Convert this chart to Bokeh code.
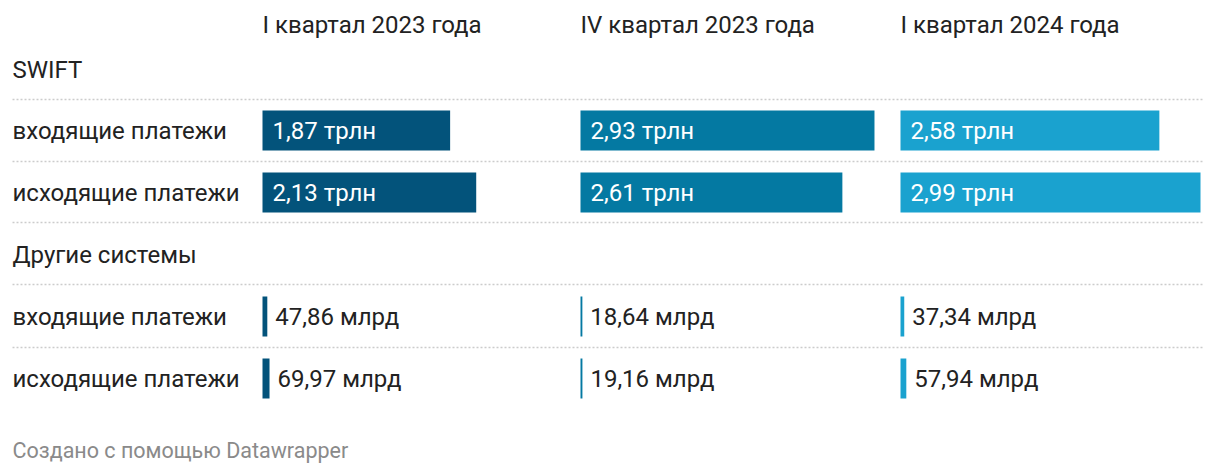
from bokeh.plotting import figure
from bokeh.models import Range1d, ColumnDataSource
from bokeh.core.properties import value
from bokeh.embed import file_html
from bokeh.resources import INLINE

# ---- data ----
periods = ["I квартал 2023 года", "IV квартал 2023 года", "I квартал 2024 года"]
groups = ["SWIFT", "Другие системы"]
row_labels = ["входящие платежи", "исходящие платежи"]
# values in trillions
swift_in = [1.87, 2.93, 2.58]
swift_out = [2.13, 2.61, 2.99]
other_in = [0.04786, 0.01864, 0.03734]
other_out = [0.06997, 0.01916, 0.05794]
swift_in_lbl = ["1,87 трлн", "2,93 трлн", "2,58 трлн"]
swift_out_lbl = ["2,13 трлн", "2,61 трлн", "2,99 трлн"]
other_in_lbl = ["47,86 млрд", "18,64 млрд", "37,34 млрд"]
other_out_lbl = ["69,97 млрд", "19,16 млрд", "57,94 млрд"]
colors = ["#03537b", "#0479a2", "#1aa2cf"]
credit = "Создано с помощью Datawrapper"

# ---- layout (pixels) ----
W, H = 1204, 466
PX_PER_UNIT = 300 / max(swift_out + swift_in)  # widest bar = 300px
col_px = [262, 580, 900]
U = lambda px: px / PX_PER_UNIT  # pixel -> data units

FONT = value("Roboto")
TXT = "#222222"
FS = "24px"

p = figure(width=W, height=H, output_backend="svg", toolbar_location=None,
           x_range=Range1d(0, U(W)), y_range=Range1d(H, 0),
           min_border=0, outline_line_color=None)
p.axis.visible = False
p.xgrid.visible = False
p.ygrid.visible = False
p.background_fill_color = "white"
p.border_fill_color = "white"

# headers
p.text(x=[U(c) for c in col_px], y=[24] * 3, text=periods, text_font=FONT,
       text_font_size=FS, text_color=TXT, text_baseline="middle", text_align="left")

# group headers
p.text(x=[U(12), U(12)], y=[69, 254], text=groups, text_font=FONT,
       text_font_size=FS, text_color=TXT, text_baseline="middle", text_align="left")

# row labels
row_y = [130, 192, 316, 378]
p.text(x=[U(12)] * 4, y=row_y, text=row_labels * 2, text_font=FONT,
       text_font_size=FS, text_color=TXT, text_baseline="middle", text_align="left")

# dotted separators
for yy in [99, 161, 222, 284, 347]:
    p.line(x=[U(12), U(1208)], y=[yy, yy], line_color="#cccccc", line_width=1.5,
           line_dash="2 2")

BAR_H = 40
series = [(swift_in, swift_in_lbl, row_y[0], True),
          (swift_out, swift_out_lbl, row_y[1], True),
          (other_in, other_in_lbl, row_y[2], False),
          (other_out, other_out_lbl, row_y[3], False)]
for vals, lbls, yy, inside in series:
    lefts = [U(c) for c in col_px]
    rights = [l + v for l, v in zip(lefts, vals)]
    src = ColumnDataSource(dict(left=lefts, right=rights, y=[yy] * 3, color=colors,
                                lbl=lbls,
                                tx=[l + U(10) for l in lefts] if inside else [r + U(8) for r in rights]))
    p.hbar(left="left", right="right", y="y", height=BAR_H, fill_color="color",
           line_color=None, source=src)
    p.text(x="tx", y="y", text="lbl", source=src, text_font=FONT, text_font_size=FS,
           text_color="white" if inside else TXT, text_baseline="middle", text_align="left")

# credit
p.text(x=[U(12)], y=[450], text=[credit], text_font=FONT, text_font_size="21.5px",
       text_color="#8a8a8a", text_baseline="middle", text_align="left")

open("out.html", "w").write(file_html(p, INLINE))
